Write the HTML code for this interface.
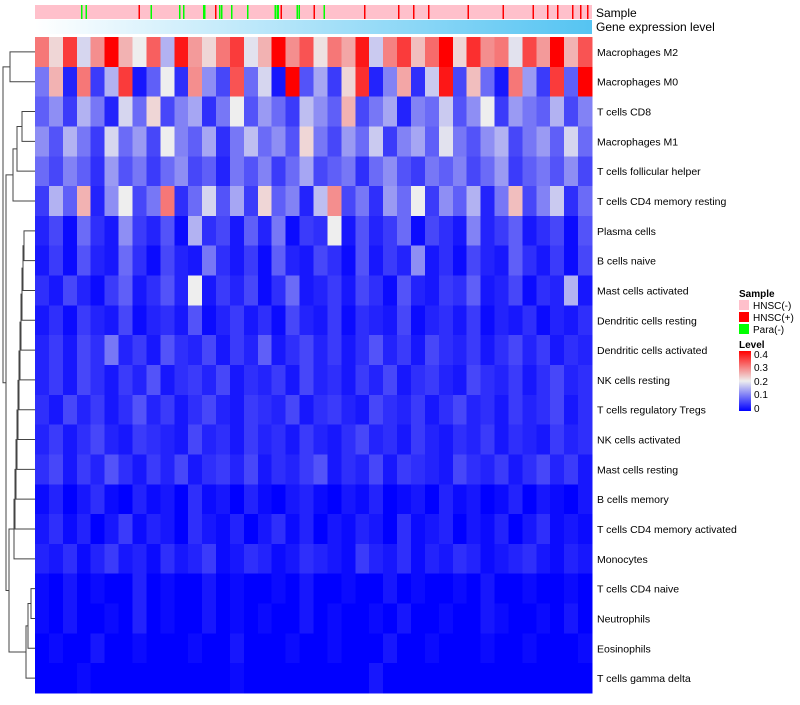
<!DOCTYPE html>
<html><head><meta charset="utf-8"><style>
body{margin:0;background:#fff;width:800px;height:700px;overflow:hidden;font-family:"Liberation Sans",sans-serif}
</style></head><body>
<svg id="chart" width="800" height="700" xmlns="http://www.w3.org/2000/svg" shape-rendering="crispEdges">
<defs><linearGradient id="gexp" x1="0" x2="1"><stop offset="0" stop-color="#ffffff"/><stop offset="1" stop-color="#55c4f2"/></linearGradient>
<linearGradient id="lvl" x1="0" y1="1" x2="0" y2="0"><stop offset="0" stop-color="#0000ff"/><stop offset="0.5" stop-color="#eeeeee"/><stop offset="1" stop-color="#ff0000"/></linearGradient></defs>
<g id="annot"></g><g id="cells"></g><g id="dendro" fill="none" stroke="#444" stroke-width="1" shape-rendering="auto"></g><g id="labels"></g>
<g id="legend" font-size="10">
<text x="739" y="297" font-weight="bold">Sample</text>
<rect x="739" y="300" width="10" height="10" fill="#ffc0cb"/><text x="753" y="309">HNSC(-)</text>
<rect x="739" y="312" width="10" height="10" fill="#ff0000"/><text x="753" y="321">HNSC(+)</text>
<rect x="739" y="324" width="10" height="10" fill="#00ff00"/><text x="753" y="333">Para(-)</text>
<text x="739" y="348" font-weight="bold">Level</text>
<rect x="739" y="351" width="12" height="60" fill="url(#lvl)"/>
<text x="754" y="358">0.4</text><text x="754" y="371">0.3</text><text x="754" y="385">0.2</text><text x="754" y="398">0.1</text><text x="754" y="412">0</text>
</g>
</svg>
<script>
const cellTypes=["Macrophages M2","Macrophages M0","T cells CD8","Macrophages M1","T cells follicular helper","T cells CD4 memory resting","Plasma cells","B cells naive","Mast cells activated","Dendritic cells resting","Dendritic cells activated","NK cells resting","T cells regulatory  Tregs","NK cells activated","Mast cells resting","B cells memory","T cells CD4 memory activated","Monocytes","T cells CD4 naive","Neutrophils","Eosinophils","T cells gamma delta"];
const levelRows=[
[30,22,35,18,28,40,25,20,32,15,38,27,22,30,35,19,25,40,28,33,21,30,26,38,17,29,35,24,31,40,22,36,28,30,19,34,27,40,25,33],
[10,25,3,30,5,15,35,2,8,20,4,28,12,6,33,9,18,2,40,7,14,5,22,36,3,11,26,4,17,38,6,24,9,2,30,13,5,35,8,40],
[8,12,5,15,10,3,18,9,22,6,11,14,4,10,20,7,13,9,5,16,12,8,25,6,10,14,3,11,9,17,7,12,20,5,13,10,8,15,6,11],
[12,7,15,10,5,18,9,13,6,20,11,8,14,4,10,16,9,12,7,22,10,6,13,9,17,5,11,14,8,19,10,7,12,15,6,10,13,8,18,9],
[9,6,11,8,4,13,7,10,5,9,12,6,8,3,10,7,11,5,9,14,6,8,10,4,9,12,7,5,10,8,11,6,9,13,5,8,10,7,12,6],
[5,15,8,25,3,12,20,6,10,30,4,9,18,7,14,5,22,8,11,3,16,28,6,10,4,13,9,20,5,12,8,15,3,10,24,6,11,17,4,9],
[3,6,1,9,4,2,12,5,3,7,1,15,4,6,2,8,3,10,1,5,4,20,2,7,3,5,9,1,6,4,2,11,3,5,8,2,4,6,1,7],
[2,5,1,7,3,2,9,4,1,6,3,2,10,4,2,5,1,8,3,2,6,4,1,7,2,5,3,12,2,4,1,6,3,2,8,4,2,5,1,6],
[4,2,6,3,1,5,8,2,4,7,3,20,2,5,3,6,1,4,9,2,3,5,2,6,4,1,7,3,2,5,4,8,2,3,6,1,4,3,15,2],
[2,4,1,5,3,2,6,1,3,4,2,7,1,3,5,2,4,1,6,3,2,5,1,4,3,2,6,1,3,4,2,5,1,3,2,4,1,3,2,4],
[3,5,2,6,4,10,3,5,2,7,4,3,6,2,5,3,8,2,4,6,3,5,2,4,7,3,5,2,6,4,3,5,2,4,6,3,5,2,4,3],
[3,5,2,6,4,2,5,3,7,2,4,5,3,6,2,4,3,5,2,6,3,4,2,5,3,6,2,4,5,3,2,6,4,3,5,2,4,6,3,4],
[4,2,6,3,5,2,4,7,3,5,2,4,6,3,2,5,4,3,6,2,4,5,3,2,6,4,3,5,2,4,6,3,4,2,5,3,4,6,2,4],
[3,5,2,4,6,3,2,5,4,3,2,6,3,4,2,5,3,4,2,5,3,2,4,6,3,4,2,5,3,2,4,3,5,2,4,3,2,5,3,4],
[4,6,2,5,3,7,4,2,5,3,6,2,4,5,3,6,2,4,3,5,7,2,4,3,6,2,5,4,3,2,6,4,3,5,2,4,6,3,5,2],
[1,3,0,2,4,1,0,3,1,2,0,4,1,2,0,3,1,0,2,3,1,0,2,1,3,0,1,2,0,3,1,2,0,1,3,0,2,1,0,2],
[2,4,1,3,0,2,5,1,3,2,0,4,2,1,3,0,2,4,1,3,0,2,1,3,2,0,4,1,2,3,0,2,1,3,0,2,4,1,2,1],
[3,2,4,1,3,5,2,3,1,4,2,3,5,1,2,4,3,1,2,4,3,2,1,5,3,2,4,1,3,2,4,3,1,2,3,4,2,1,3,2],
[1,0,2,0,1,0,0,3,0,1,0,0,2,0,1,0,0,1,0,2,0,0,1,0,0,2,0,1,0,0,1,0,2,0,0,1,0,0,1,0],
[1,0,2,0,0,1,0,3,0,1,0,0,2,0,1,0,1,0,0,2,0,1,0,0,1,0,2,0,0,1,0,0,2,1,0,0,1,0,2,0],
[0,1,0,0,2,0,0,1,0,0,0,1,0,0,2,0,0,0,1,0,0,1,0,0,0,2,0,0,1,0,0,0,1,0,0,1,0,0,0,1],
[0,0,0,1,0,0,0,0,0,0,0,0,0,0,1,0,0,0,0,0,0,0,0,0,2,0,0,0,0,0,0,0,0,0,0,0,0,0,0,0]];
const sampleCount=560;
const paraSamples=[46,51,104,116,145,149,169,170,185,187,197,213,241,243,244,247,263,265,280,290];
const posSamples=[104,181,247,280,331,365,380,395,435,470,500,515,525,540,548,555];
const X0=35,X1=592,Y0=37,Y1=693;
const NS="http://www.w3.org/2000/svg";
function el(t,a,p){const e=document.createElementNS(NS,t);for(const k in a)e.setAttribute(k,a[k]);p.appendChild(e);return e;}
const rowH=(Y1-Y0)/cellTypes.length;
function yRow(i){return Y0+i*rowH;}
function xCol(j,n){return X0+j*(X1-X0)/n;}
function xSample(s){return X0+s*(X1-X0)/sampleCount;}
function color(v){let t=Math.max(0,Math.min(1,v/0.4));let r,g,b;
 if(t<0.5){const u=t*2;r=238*u;g=238*u;b=255-17*u;}else{const u=(t-0.5)*2;r=238+17*u;g=238*(1-u);b=238*(1-u);}
 return `rgb(${r|0},${g|0},${b|0})`;}
const annot=document.getElementById('annot');
const sb=el('rect',{x:X0,y:5,width:X1-X0,height:14,fill:'#ffc0cb'},annot);


paraSamples.forEach(s=>{const r=el('rect',{x:xSample(s),y:5,width:1.5,height:14,fill:'#00ff00'},annot);

});
posSamples.forEach(s=>{const r=el('rect',{x:xSample(s),y:5,width:1.5,height:14,fill:'#ff0000'},annot);

});
const gb=el('rect',{x:X0,y:20,width:X1-X0,height:14,fill:'url(#gexp)'},annot);


const t1=el('text',{x:596,y:17,'font-size':12},annot);t1.textContent='Sample';


const t2=el('text',{x:596,y:31,'font-size':12},annot);t2.textContent='Gene expression level';


const cells=document.getElementById('cells'),labels=document.getElementById('labels');
levelRows.forEach((row,i)=>{const n=row.length;row.forEach((v,j)=>{
 const r=el('rect',{x:xCol(j,n),y:yRow(i),width:(X1-X0)/n+0.5,height:rowH+0.5,fill:color(v/100)},cells);
 
 });
 const t=el('text',{x:597,y:yRow(i)+rowH/2+4,'font-size':10.5},labels);t.textContent=cellTypes[i];
 
 });
// dendrogram
const d=document.getElementById('dendro');
const c=i=>yRow(i)+rowH/2;
function link(xj,ya,yb,xa,xb){el('path',{d:`M${xa},${ya}H${xj}V${yb}H${xb}`},d);}
link(10,c(0),c(1),35,35);
link(22,c(2),c(3),35,35);
const m23=(c(2)+c(3))/2;
link(17,m23,c(4),22,35);
const a=(m23+c(4))/2;
link(13,a,c(5),17,35);
const b=(a+c(5))/2;
let y=c(6);link(24,y,c(7),35,35);y=(c(6)+c(7))/2;
let x=24;
for(let i=8;i<=17;i++){const nx=Math.max(14,x-1);link(nx,y,c(i),x,35);y=(y+c(i))/2;x=nx;}
link(31,c(18),c(19),35,35);let y2=(c(18)+c(19))/2;
link(28,y2,c(20),31,35);y2=(y2+c(20))/2;
link(26,y2,c(21),28,35);y2=(y2+c(21))/2;
link(9,y,y2,x,26);const y3=(y+y2)/2;
link(6,b,y3,13,9);const y4=(b+y3)/2;
link(3,(c(0)+c(1))/2,y4,10,6);
</script>
</body></html>
